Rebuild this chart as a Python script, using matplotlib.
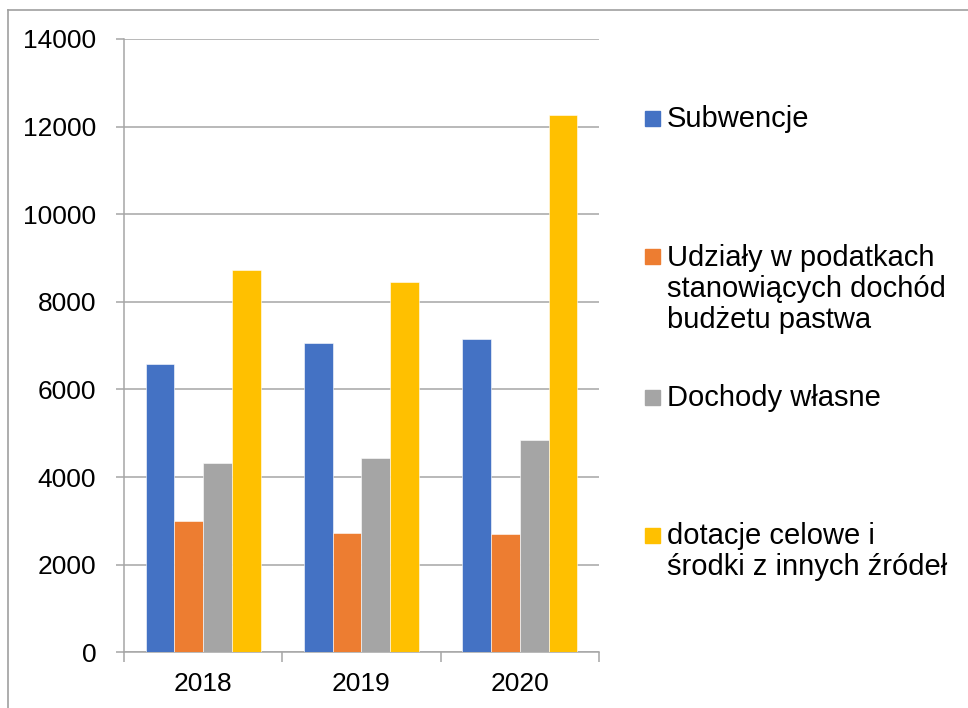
import matplotlib
matplotlib.use("Agg")
import matplotlib.pyplot as plt
from matplotlib.patches import Rectangle
from matplotlib.lines import Line2D
import numpy as np

plt.rcParams['font.family'] = ['Liberation Sans', 'DejaVu Sans']

### DANE
years = ["2018", "2019", "2020"]
series_names = [
    "Subwencje",
    "Udziały w podatkach\nstanowiących dochód\nbudżetu pastwa",
    "Dochody własne",
    "dotacje celowe i\nśrodki z innych źródeł",
]
subwencje = [6575, 7070, 7145]
udzialy = [2990, 2715, 2695]
dochody_wlasne = [4315, 4430, 4850]
dotacje = [8720, 8455, 12265]
colors = ["#4472C4", "#ED7D31", "#A5A5A5", "#FFC000"]
yticks = [0, 2000, 4000, 6000, 8000, 10000, 12000, 14000]

values = [subwencje, udzialy, dochody_wlasne, dotacje]

W, H = 968, 708
fig = plt.figure(figsize=(W / 100, H / 100), dpi=100)
ax = fig.add_axes([124 / W, 1 - 652.3 / H, (599 - 124) / W, (652.3 - 39) / H])

grid_c = "#a6a6a6"
x = np.arange(len(years))
bw = 0.182
for i, vals in enumerate(values):
    ax.bar(x + (i - 1.5) * bw, vals, width=bw, color=colors[i],
           edgecolor="white", linewidth=0.4, zorder=3)

ax.set_xlim(-0.5, 2.5)
ax.set_ylim(0, 14000)
ax.set_yticks(yticks)
ax.set_yticklabels([str(v) for v in yticks], fontsize=19)
ax.yaxis.grid(True, color=grid_c, linewidth=1.1, zorder=0)
ax.tick_params(axis="y", length=6, width=1.1, color=grid_c, pad=14)

# granice kategorii jako ticki, etykiety na minor
ax.set_xticks([-0.5, 0.5, 1.5, 2.5])
ax.set_xticklabels([])
ax.set_xticks(x, minor=True)
ax.set_xticklabels(years, minor=True, fontsize=19)
ax.tick_params(axis="x", which="major", length=7, width=1.1, color=grid_c)
ax.tick_params(axis="x", which="minor", length=0, pad=14)

for s in ["top", "right"]:
    ax.spines[s].set_visible(False)
for s in ["left", "bottom"]:
    ax.spines[s].set_color(grid_c)
    ax.spines[s].set_linewidth(1.1)

### LEGENDA
leg_y = [118, 257, 397, 535]
for name, c, yy in zip(series_names, colors, leg_y):
    fig.add_artist(Rectangle((645 / W, 1 - (yy + 7.5) / H), 15 / W, 15 / H,
                             transform=fig.transFigure, color=c))
    fig.text(667 / W, 1 - (yy - 13) / H, name, fontsize=21, va="top",
             ha="left", linespacing=1.13)

### RAMKA
fig.add_artist(Line2D([8 / W, 1], [1 - 10 / H, 1 - 10 / H], color="#a0a0a0",
                      linewidth=1.2, transform=fig.transFigure))
fig.add_artist(Line2D([8 / W, 8 / W], [0, 1 - 10 / H], color="#a0a0a0",
                      linewidth=1.2, transform=fig.transFigure))

fig.savefig("out.png", dpi=100)
